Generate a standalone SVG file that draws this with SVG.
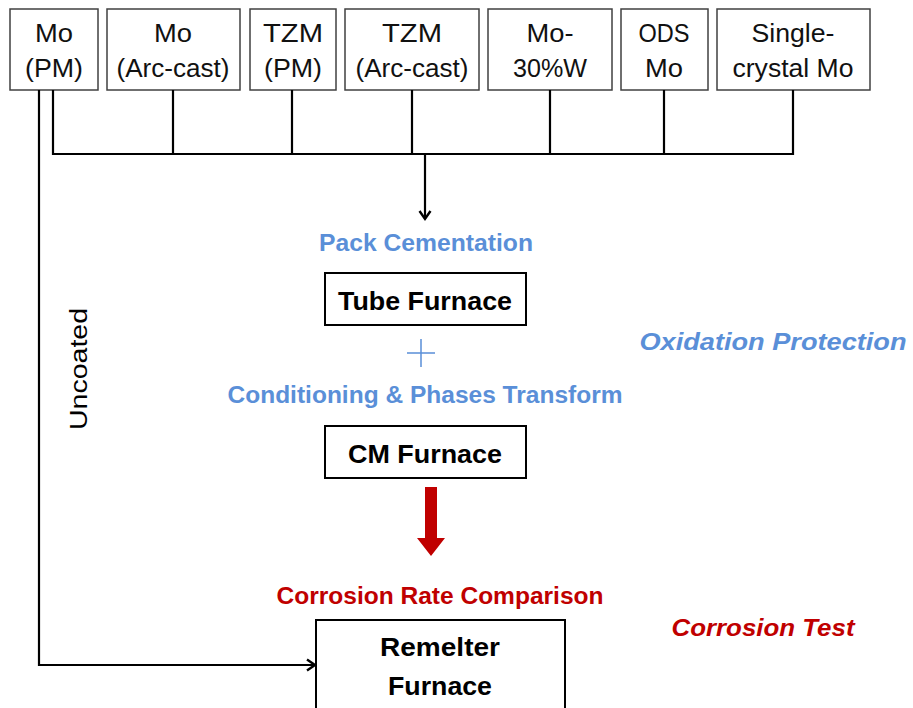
<svg xmlns="http://www.w3.org/2000/svg" width="913" height="708" viewBox="0 0 913 708">
<style>
.src rect{fill:#fff;stroke:#404040;stroke-width:1.5}
.src text{font-family:"Liberation Sans",Arial,sans-serif;font-size:25px;fill:#111;text-anchor:middle}
.box rect{fill:#fff;stroke:#000;stroke-width:2}
.box text{font-family:"Liberation Sans",Arial,sans-serif;font-weight:bold;font-size:25px;fill:#000;text-anchor:middle}
.lbl{font-family:"Liberation Sans",Arial,sans-serif;font-weight:bold;font-size:23px;text-anchor:middle}
.blue{fill:#5A8FD8}
.red{fill:#C00000}
.conn{fill:none;stroke:#000;stroke-width:2.2}
</style>
<defs>
<marker id="ah" markerWidth="14" markerHeight="14" refX="11" refY="7" orient="auto" markerUnits="userSpaceOnUse">
<path d="M3,1.5 L11,7 L3,12.5" fill="none" stroke="#000" stroke-width="2.4"/>
</marker>
</defs>
<g id="n-mo-pm" class="src"><rect x="10" y="9" width="88" height="81"/><text x="54" y="42" textLength="38" lengthAdjust="spacingAndGlyphs">Mo</text><text x="54" y="77" textLength="58" lengthAdjust="spacingAndGlyphs">(PM)</text></g>
<g id="n-mo-arc" class="src"><rect x="107" y="9" width="133" height="81"/><text x="173" y="42" textLength="38" lengthAdjust="spacingAndGlyphs">Mo</text><text x="173" y="77" textLength="113" lengthAdjust="spacingAndGlyphs">(Arc-cast)</text></g>
<g id="n-tzm-pm" class="src"><rect x="250" y="9" width="86" height="81"/><text x="293" y="42" textLength="60" lengthAdjust="spacingAndGlyphs">TZM</text><text x="293" y="77" textLength="58" lengthAdjust="spacingAndGlyphs">(PM)</text></g>
<g id="n-tzm-arc" class="src"><rect x="345" y="9" width="134" height="81"/><text x="412" y="42" textLength="60" lengthAdjust="spacingAndGlyphs">TZM</text><text x="412" y="77" textLength="113" lengthAdjust="spacingAndGlyphs">(Arc-cast)</text></g>
<g id="n-mo30w" class="src"><rect x="488" y="9" width="124" height="81"/><text x="550" y="42" textLength="47" lengthAdjust="spacingAndGlyphs">Mo-</text><text x="550" y="77" textLength="74" lengthAdjust="spacingAndGlyphs">30%W</text></g>
<g id="n-ods" class="src"><rect x="621" y="9" width="87" height="81"/><text x="664" y="42" textLength="51" lengthAdjust="spacingAndGlyphs">ODS</text><text x="664" y="77" textLength="38" lengthAdjust="spacingAndGlyphs">Mo</text></g>
<g id="n-single" class="src"><rect x="717" y="9" width="153" height="81"/><text x="793" y="42" textLength="83" lengthAdjust="spacingAndGlyphs">Single-</text><text x="793" y="77" textLength="121" lengthAdjust="spacingAndGlyphs">crystal Mo</text></g>

<g id="connectors">
<path class="conn" d="M53,90 V154 H793 V90 M173,90 V154 M292,90 V154 M412,90 V154 M550,90 V154 M664,90 V154"/>
<path class="conn" d="M425,154 V219" marker-end="url(#ah)"/>
<path class="conn" d="M39,90 V665 H315" marker-end="url(#ah)"/>
<path d="M425,487 H437 V538 H445 L431,556 L417,538 H425 Z" fill="#C00000"/>
</g>

<text class="lbl blue" x="426" y="251" textLength="214" lengthAdjust="spacingAndGlyphs">Pack Cementation</text>
<g id="n-tube" class="box"><rect x="325" y="273" width="201" height="52"/><text x="425" y="310" textLength="174" lengthAdjust="spacingAndGlyphs">Tube Furnace</text></g>
<path d="M407,353 H435 M421,339 V367" stroke="#5A8FD8" stroke-width="1.5" fill="none"/>
<text class="lbl blue" x="425" y="403" textLength="395" lengthAdjust="spacingAndGlyphs">Conditioning &amp; Phases Transform</text>
<g id="n-cm" class="box"><rect x="325" y="426" width="201" height="52"/><text x="425" y="463" textLength="154" lengthAdjust="spacingAndGlyphs">CM Furnace</text></g>
<text class="lbl blue" x="773" y="350" font-style="italic" textLength="267" lengthAdjust="spacingAndGlyphs">Oxidation Protection</text>
<text class="lbl red" x="440" y="604" textLength="327" lengthAdjust="spacingAndGlyphs">Corrosion Rate Comparison</text>
<text class="lbl red" x="763" y="636" font-style="italic" textLength="183" lengthAdjust="spacingAndGlyphs">Corrosion Test</text>
<g id="n-remelter" class="box"><rect x="316" y="620" width="249" height="100"/><text x="440" y="656" textLength="120" lengthAdjust="spacingAndGlyphs">Remelter</text><text x="440" y="695" textLength="104" lengthAdjust="spacingAndGlyphs">Furnace</text></g>
<text x="0" y="0" transform="translate(87,369) rotate(-90)" font-family="Liberation Sans,Arial,sans-serif" font-size="23" fill="#000" text-anchor="middle" textLength="122" lengthAdjust="spacingAndGlyphs">Uncoated</text>
</svg>
